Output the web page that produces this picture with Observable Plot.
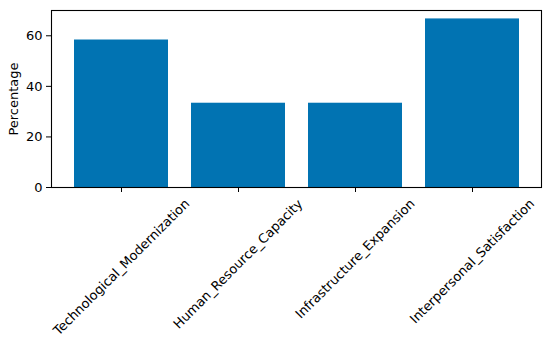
<!DOCTYPE html>
<html>
<head>
<meta charset="utf-8">
<script src="https://cdn.jsdelivr.net/npm/d3@7"></script>
<script src="https://cdn.jsdelivr.net/npm/@observablehq/plot@0.6"></script>
<style>
  html, body { margin: 0; padding: 0; background: #fff; }
  #chart { width: 550px; height: 342px; }
</style>
</head>
<body>
<div id="chart"></div>
<script>
const categories = ["Technological_Modernization", "Human_Resource_Capacity", "Infrastructure_Expansion", "Interpersonal_Satisfaction"];
const percentages = [58.33, 33.33, 33.33, 66.67];
const yTicks = [0, 20, 40, 60];

const data = categories.map((c, i) => ({category: c, value: percentages[i]}));

const plot = Plot.plot({
  width: 550,
  height: 342,
  marginTop: 10,
  marginBottom: 155,
  marginLeft: 51,
  marginRight: 9,
  style: {fontFamily: "DejaVu Sans", fontSize: "13px", color: "#000", background: "#fff", overflow: "visible"},
  x: {domain: categories, paddingInner: 0.2, paddingOuter: 0.19},
  y: {domain: [0, 70]},
  marks: [
    Plot.barY(data, {x: "category", y: "value", fill: "#0173b2"}),
    Plot.frame({stroke: "#000", strokeWidth: 1.1}),
    Plot.axisY({ticks: yTicks, tickSize: 5, tickPadding: 4, stroke: "#000", fill: "#000",
      label: "Percentage", labelAnchor: "center", labelArrow: "none", labelOffset: 43}),
    Plot.axisX({tickSize: 5, tickPadding: 4, tickRotate: -45, textAnchor: "middle", stroke: "#000", fill: "#000", label: null})
  ]
});
document.getElementById("chart").appendChild(plot);

// Matplotlib-style centering of rotated tick labels: bounding box centered under tick, top just below tick
const xs = plot.scale("x");
const svgRect = plot.getBoundingClientRect();
const labels = plot.querySelectorAll('[aria-label="x-axis tick label"] text');
const axisBottom = 342 - 155;
labels.forEach((t, i) => {
  const cat = categories[i];
  const cx = xs.apply(cat) + xs.bandwidth / 2;
  const r = t.getBoundingClientRect();
  const dx = cx - ((r.left + r.right) / 2 - svgRect.left);
  const dy = (axisBottom + 9) - (r.top - svgRect.top);
  t.setAttribute("transform", `translate(${dx},${dy}) ` + (t.getAttribute("transform") || ""));
});
</script>
</body>
</html>
